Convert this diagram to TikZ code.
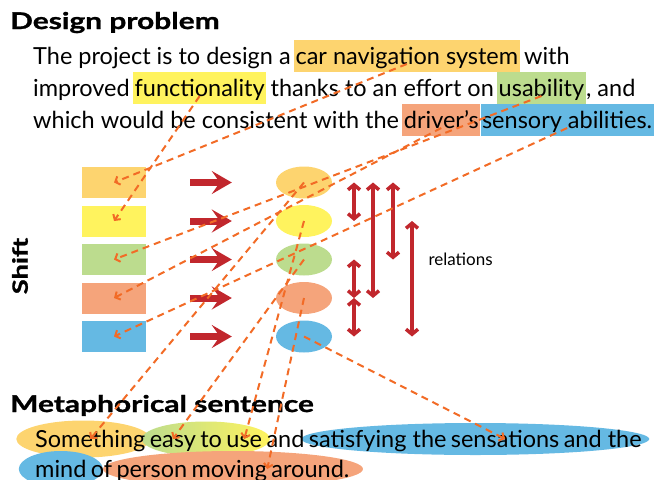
\documentclass[tikz,border=0pt]{standalone}
\usepackage{fontspec}
\setmainfont{Lato}
\newfontfamily\headfont{Lato}[FakeStretch=1.3,FakeBold=1.2]
\usetikzlibrary{positioning,shapes.geometric,arrows.meta,calc,backgrounds}

\definecolor{hlOrange}{HTML}{FDD46F}
\definecolor{hlYellow}{HTML}{FFF35E}
\definecolor{hlGreen}{HTML}{BCDC8E}
\definecolor{hlSalmon}{HTML}{F5A47B}
\definecolor{hlBlue}{HTML}{65B9E3}
\definecolor{dashOrange}{HTML}{F26B26}
\definecolor{arrRed}{HTML}{C1272D}

\tikzset{
  body/.style={font=\fontsize{23.5}{28}\selectfont, inner sep=0pt, text height=21pt, text depth=5pt},
  hilite/.style={body, fill=#1, inner xsep=1.5pt, text height=24pt, text depth=8pt},
  heading/.style={font=\headfont\bfseries\fontsize{23}{26}\selectfont, inner sep=0pt, anchor=base west},
  colbox/.style={fill=#1, minimum width=64pt, minimum height=31pt, inner sep=0pt},
  colell/.style={ellipse, fill=#1, minimum width=56pt, minimum height=32pt, inner sep=0pt},
  link/.style={draw=dashOrange, line width=2pt, dash pattern=on 7pt off 5pt,
    -{Straight Barb[length=4pt,width=9pt]}},
  pusharr/.style={draw=arrRed, line width=7pt, -{Stealth[length=20pt,width=23pt,inset=8pt]}},
  relarr/.style={draw=arrRed, line width=3.5pt,
    {Straight Barb[length=5pt,width=12pt]}-{Straight Barb[length=5pt,width=12pt]}},
}

\begin{document}
\begin{tikzpicture}[x=1pt,y=-1pt]
\useasboundingbox (0,0) rectangle (663,479);

% design problem
\node[heading] (design) at (10,29) {Design problem};
\node[body, anchor=base west] (l1a) at (33,64) {The project is to design a};
\node[hilite=hlOrange, base right=3pt of l1a] (car) {car navigation system};
\node[body, base right=4pt of car] (l1b) {with};
\node[body, anchor=base west] (l2a) at (33,96) {improved};
\node[hilite=hlYellow, base right=3pt of l2a] (func) {functionality};
\node[body, base right=4pt of func] (l2b) {thanks to an effort on};
\node[hilite=hlGreen, base right=3pt of l2b] (usab) {usability};
\node[body, base right=0pt of usab] (l2c) {, and};
\node[body, anchor=base west] (l3a) at (33,128) {which would be consistent with the};
\node[hilite=hlSalmon, base right=3pt of l3a] (drv) {driver’s};
\node[hilite=hlBlue, base right=0pt of drv] (sens) {sensory abilities.};

% shift: boxes -> ellipses
\node[rotate=90, font=\headfont\bfseries\fontsize{21}{24}\selectfont] (shiftlbl) at (20,266) {Shift};
\foreach \c [count=\i] in {hlOrange,hlYellow,hlGreen,hlSalmon,hlBlue}{
  \node[colbox=\c] (b\i) at (114,144+38.5*\i) {};
  \node[colell=\c] (e\i) at (304,144+38.5*\i) {};
  \draw[pusharr] ([xshift=44]b\i.east) -- ([xshift=-44]e\i.west);
}

% relations
\draw[relarr] ([xshift=50]e1.center) -- ([xshift=50]e2.center);
\draw[relarr] ([xshift=69]e1.center) -- ([xshift=69]e4.center);
\draw[relarr] ([xshift=89]e1.center) -- ([xshift=89]e3.center);
\draw[relarr] ([xshift=50]e3.center) -- ([xshift=50]e4.center);
\draw[relarr] ([xshift=50]e4.center) -- ([xshift=50]e5.center);
\draw[relarr] ([xshift=108]e2.center) -- ([xshift=108]e5.center);
\node[anchor=base west, font=\fontsize{17}{20}\selectfont] (relat) at (425,265) {relations};

% metaphorical sentence
\node[heading] (meta) at (10,412) {Metaphorical sentence};
\node[body, anchor=base west] (smth) at (35,447) {Something};
\node[body, base right=4pt of smth] (easy) {easy};
\node[body, base right=4pt of easy] (wto) {to};
\node[body, base right=4pt of wto] (use) {use};
\node[body, base right=4pt of use] (and1) {and};
\node[body, base right=4pt of and1] (satis) {satisfying the};
\node[body, base right=4pt of satis] (sensa) {sensations};
\node[body, base right=4pt of sensa] (andthe) {and the};
\node[body, anchor=base west] (mind) at (35,477) {mind};
\node[body, base right=4pt of mind] (wof) {of};
\node[body, base right=4pt of wof] (person) {person};
\node[body, base right=4pt of person] (moving) {moving};
\node[body, base right=4pt of moving] (around) {around.};
\begin{pgfonlayer}{background}
  \fill[hlOrange] ([xshift=-7]smth.center) ellipse [x radius=67, y radius=18.5];
  \shade[left color=hlGreen, right color=hlYellow] ($(easy.west)!.5!(use.east)$) ellipse [x radius=64, y radius=17.5];
  \fill[hlBlue] ($(satis.west)!.5!(andthe.east)$) ellipse [x radius=174, y radius=16];
  \fill[hlBlue] (mind.center) ellipse [x radius=42, y radius=18];
  \fill[hlSalmon] ($(person.west)!.5!(around.east)$) ellipse [x radius=130, y radius=18];
\end{pgfonlayer}

% links
\draw[link] (car.base) -- (b1.center);
\draw[link] (func.base) -- (b2.center);
\draw[link] (usab.base) -- (b3.center);
\draw[link] (drv.base) -- (b4.center);
\draw[link] (sens.base) -- (b5.center);
\draw[link] (e1.center) -- (smth.center);
\draw[link] (e3.center) -- (easy.center);
\draw[link] (e2.center) -- (use.center);
\draw[link] (e4.center) -- (moving.east);
\draw[link] (e5.center) -- (sensa.center);
\end{tikzpicture}
\end{document}
